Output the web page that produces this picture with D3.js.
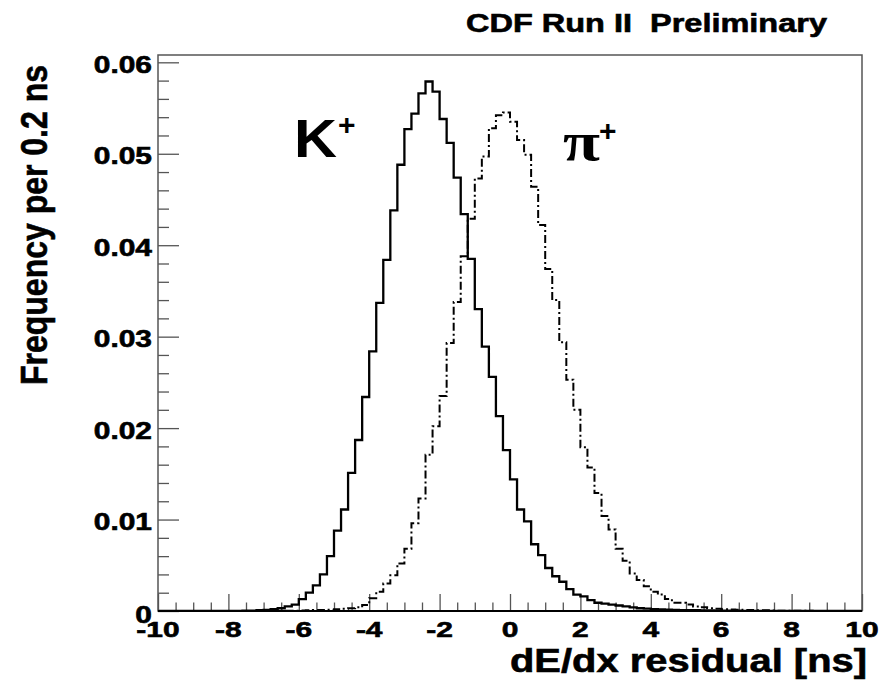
<!DOCTYPE html>
<html>
<head>
<meta charset="utf-8">
<script src="https://cdn.jsdelivr.net/npm/d3@7"></script>
<style>
  body { margin: 0; background: #fff; }
  text { font-family: "Liberation Sans", Arial, sans-serif; font-weight: bold; fill: #000; white-space: pre; }
  text.heavy { stroke: #000; stroke-width: 0.6px; }
</style>
</head>
<body>
<script>
// histogram bins: 0.2 ns wide, starting at -10 ns
const binLow = -10;
const binWidth = 0.2;

// K+ frequency per bin
const kaonFreq = [
  0, 0, 0, 0, 0, 0, 0, 0, 0, 0,
  0, 0.00002, 0.00003, 0.00005, 0.00008, 0.00012, 0.0002, 0.0003, 0.0005, 0.0007,
  0.0013, 0.0020, 0.0028, 0.0040, 0.0060, 0.0088, 0.0111, 0.0151, 0.0187, 0.0234,
  0.0284, 0.0337, 0.0384, 0.0438, 0.0488, 0.0527, 0.0544, 0.0566, 0.0579, 0.0568,
  0.0538, 0.0512, 0.0474, 0.0434, 0.0385, 0.0330, 0.0289, 0.0256, 0.0213, 0.0176,
  0.0144, 0.0111, 0.0098, 0.0073, 0.0061, 0.0047, 0.0038, 0.0032, 0.0024, 0.0018,
  0.0016, 0.0012, 0.0009, 0.0008, 0.0007, 0.0006, 0.0005, 0.0004, 0.0003, 0.00025,
  0.0002, 0.00017, 0.00015, 0.00012, 0.0001, 0.0001, 0.00008, 0.00007, 0.00006, 0.00005,
  0.00004, 0.00003, 0.00003, 0.00002, 0.00002, 0.00002, 0.00001, 0.00001, 0.00001, 0.00001,
  0, 0, 0, 0, 0, 0, 0, 0, 0, 0
];

// pi+ frequency per bin
const pionFreq = [
  0, 0, 0, 0, 0, 0, 0, 0, 0, 0,
  0, 0, 0, 0, 0, 0.00001, 0.00002, 0.00002, 0.00003, 0.00004,
  0.00005, 0.00007, 0.0001, 0.00012, 0.00015, 0.0002, 0.00025, 0.0003, 0.0004, 0.00066,
  0.0014, 0.0021, 0.0030, 0.0039, 0.0052, 0.0068, 0.0096, 0.0123, 0.0171, 0.0202,
  0.0235, 0.0293, 0.0338, 0.0388, 0.0429, 0.0473, 0.0497, 0.0528, 0.0542, 0.0545,
  0.0535, 0.0515, 0.0499, 0.0464, 0.0422, 0.0374, 0.0340, 0.0294, 0.0253, 0.0220,
  0.0179, 0.0157, 0.0129, 0.0104, 0.0089, 0.0068, 0.0055, 0.0041, 0.0034, 0.0027,
  0.0021, 0.0018, 0.0013, 0.0009, 0.0009, 0.0007, 0.0005, 0.0004, 0.0003, 0.00025,
  0.0002, 0.00017, 0.00015, 0.00012, 0.0001, 0.00008, 0.00007, 0.00005, 0.00004, 0.00003,
  0.00003, 0.00002, 0.00002, 0.00001, 0.00001, 0, 0, 0, 0, 0
];

const xMajor = [-10, -8, -6, -4, -2, 0, 2, 4, 6, 8, 10];
const yMajor = [0, 0.01, 0.02, 0.03, 0.04, 0.05, 0.06];

const W = 879, H = 680;
const plot = { left: 158, right: 862, top: 55, bottom: 611 };

const svg = d3.select("body").append("svg")
  .attr("width", W)
  .attr("height", H);

const x = d3.scaleLinear().domain([-10, 10]).range([plot.left, plot.right]);
const y = d3.scaleLinear().domain([0, 0.0608]).range([plot.bottom, plot.top]);

// stretch text horizontally, the original glyphs are wider than Liberation Sans
function widen(sel, k) {
  sel.each(function () {
    const n = this.getComputedTextLength();
    d3.select(this).attr("textLength", n * k).attr("lengthAdjust", "spacingAndGlyphs");
  });
}

// minor + major ticks, pointing inward
const xMinor = x.ticks(40).filter(v => !xMajor.includes(v));
const yMinor = d3.range(0, 0.0601, 0.002).filter(v => Math.abs(v * 100 - Math.round(v * 100)) > 1e-6);

function tickStyle(g) {
  g.select(".domain").remove();
  g.selectAll("line").attr("stroke", "#555").attr("stroke-width", 1.3);
}

svg.append("g").attr("transform", `translate(0,${plot.bottom})`)
  .call(d3.axisTop(x).tickValues(xMajor).tickSize(17).tickFormat(""))
  .call(tickStyle);
svg.append("g").attr("transform", `translate(0,${plot.bottom})`)
  .call(d3.axisTop(x).tickValues(xMinor).tickSize(8.5).tickFormat(""))
  .call(tickStyle);
svg.append("g").attr("transform", `translate(${plot.left},0)`)
  .call(d3.axisRight(y).tickValues(yMajor).tickSize(21).tickFormat(""))
  .call(tickStyle);
svg.append("g").attr("transform", `translate(${plot.left},0)`)
  .call(d3.axisRight(y).tickValues(yMinor).tickSize(11).tickFormat(""))
  .call(tickStyle);

// histograms
svg.append("clipPath").attr("id", "plotclip")
  .append("rect")
  .attr("x", plot.left).attr("y", plot.top)
  .attr("width", plot.right - plot.left).attr("height", plot.bottom - plot.top);

function stepPoints(freq) {
  const pts = freq.map((v, i) => [binLow + i * binWidth, v]);
  pts.push([binLow + freq.length * binWidth, freq[freq.length - 1]]);
  return pts;
}

const step = d3.line()
  .x(d => x(d[0]))
  .y(d => y(d[1]))
  .curve(d3.curveStepAfter);

svg.append("path")
  .attr("clip-path", "url(#plotclip)")
  .attr("d", step(stepPoints(pionFreq)))
  .attr("fill", "none")
  .attr("stroke", "#000")
  .attr("stroke-width", 2)
  .attr("stroke-dasharray", "8,3,2,3");

svg.append("path")
  .attr("clip-path", "url(#plotclip)")
  .attr("d", step(stepPoints(kaonFreq)))
  .attr("fill", "none")
  .attr("stroke", "#000")
  .attr("stroke-width", 2.3);

// frame
svg.append("rect")
  .attr("x", plot.left).attr("y", plot.top)
  .attr("width", plot.right - plot.left).attr("height", plot.bottom - plot.top)
  .attr("fill", "none")
  .attr("stroke", "#555")
  .attr("stroke-width", 1.5);
svg.append("line")
  .attr("x1", plot.left).attr("x2", plot.right)
  .attr("y1", plot.bottom).attr("y2", plot.bottom)
  .attr("stroke", "#000").attr("stroke-width", 1.8);

// tick labels
svg.selectAll("text.xlab")
  .data(xMajor)
  .join("text")
  .attr("class", "xlab heavy")
  .attr("x", d => x(d))
  .attr("y", 637)
  .attr("text-anchor", "middle")
  .style("font-size", "22px")
  .text(d => d)
  .call(widen, 1.36);

svg.selectAll("text.ylab")
  .data(yMajor)
  .join("text")
  .attr("class", "ylab heavy")
  .attr("x", 152)
  .attr("y", d => y(d) + (d === 0 ? 12 : 10.5))
  .attr("text-anchor", "end")
  .style("font-size", "23px")
  .text(d => d === 0 ? "0" : d.toFixed(2))
  .call(widen, 1.3);

// axis titles
svg.append("text")
  .attr("class", "heavy")
  .attr("x", 867)
  .attr("y", 672)
  .attr("text-anchor", "end")
  .style("font-size", "34px")
  .text("dE/dx residual [ns]")
  .attr("textLength", 357)
  .attr("lengthAdjust", "spacingAndGlyphs");

svg.append("text")
  .attr("class", "heavy")
  .attr("transform", "translate(47,225) rotate(-90)")
  .attr("text-anchor", "middle")
  .style("font-size", "36px")
  .text("Frequency per 0.2 ns")
  .attr("textLength", 320)
  .attr("lengthAdjust", "spacingAndGlyphs");

svg.append("text")
  .attr("class", "heavy")
  .attr("x", 466)
  .attr("y", 32)
  .style("font-size", "25px")
  .text("CDF Run II  Preliminary")
  .attr("textLength", 361)
  .attr("lengthAdjust", "spacingAndGlyphs");

// particle labels
svg.append("text")
  .attr("x", 294)
  .attr("y", 157)
  .style("font-size", "54px")
  .text("K")
  .attr("textLength", 43)
  .attr("lengthAdjust", "spacingAndGlyphs");
svg.append("text")
  .attr("x", 338)
  .attr("y", 135)
  .style("font-size", "30px")
  .text("+");

svg.append("text")
  .attr("x", 563)
  .attr("y", 160)
  .style("font-family", "'Liberation Serif', 'DejaVu Serif', serif")
  .style("font-size", "54px")
  .text("π")
  .attr("textLength", 37)
  .attr("lengthAdjust", "spacingAndGlyphs");
svg.append("text")
  .attr("x", 599)
  .attr("y", 141)
  .style("font-size", "30px")
  .text("+");
</script>
</body>
</html>
